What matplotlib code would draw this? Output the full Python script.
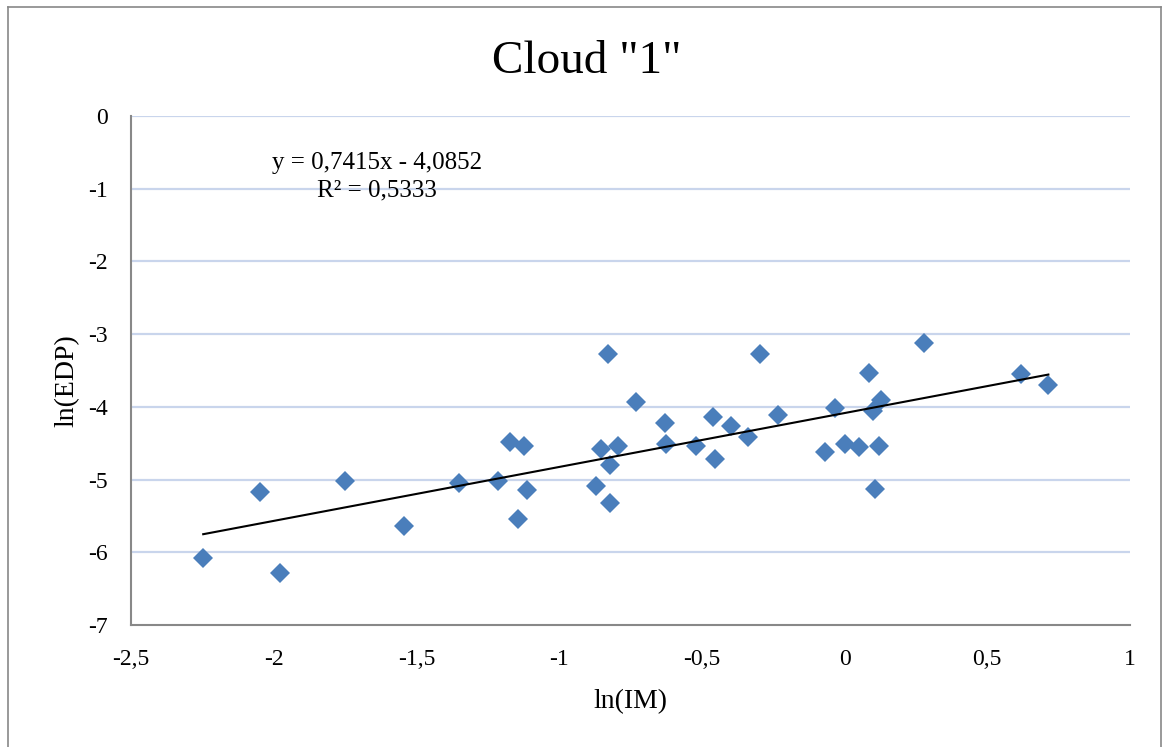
import numpy as np
import matplotlib
matplotlib.use("Agg")
import matplotlib.pyplot as plt
from matplotlib.lines import Line2D

# Data
ln_im = [-2.247, -2.047, -1.977, -1.752, -1.544, -1.352, -1.214, -1.172, -1.123, -1.114,
         -1.144, -0.828, -0.854, -0.793, -0.822, -0.871, -0.822, -0.732, -0.630, -0.626,
         -0.521, -0.460, -0.453, -0.399, -0.337, -0.295, -0.233, -0.070, -0.035, 0.001,
         0.049, 0.087, 0.128, 0.101, 0.121, 0.107, 0.279, 0.617, 0.714]
ln_edp = [-6.077, -5.173, -6.278, -5.013, -5.637, -5.054, -5.013, -4.490, -4.540, -5.146,
          -5.540, -3.271, -4.586, -4.541, -4.793, -5.087, -5.316, -3.940, -4.224, -4.504,
          -4.541, -4.146, -4.715, -4.261, -4.413, -3.271, -4.118, -4.614, -4.014, -4.504,
          -4.550, -3.541, -3.899, -4.055, -4.541, -5.128, -3.124, -3.555, -3.706]
slope, intercept = 0.7415, -4.0852
r2 = 0.5333
x_ticks = [-2.5, -2, -1.5, -1, -0.5, 0, 0.5, 1]
x_tick_labels = ["-2,5", "-2", "-1,5", "-1", "-0,5", "0", "0,5", "1"]
y_ticks = [0, -1, -2, -3, -4, -5, -6, -7]

plt.rcParams['font.family'] = ['Liberation Serif', 'DejaVu Serif']

W, H = 1164, 747
fig = plt.figure(figsize=(W / 100, H / 100), dpi=100)
ax = fig.add_axes([131 / W, 1 - 625 / H, (1130 - 131) / W, (625 - 116) / H])

ax.set_xlim(-2.5, 1)
ax.set_ylim(-7, 0)
ax.set_xticks(x_ticks)
ax.set_xticklabels(x_tick_labels)
ax.set_yticks(y_ticks)
ax.set_yticklabels([str(t) for t in y_ticks])
ax.tick_params(length=0, labelsize=17)
ax.tick_params(axis='x', pad=17)
ax.tick_params(axis='y', pad=16.5)

for t in y_ticks[:-1]:
    ax.axhline(t, color='#C9D5EC', lw=1.6, zorder=0)

for s in ['top', 'right']:
    ax.spines[s].set_visible(False)
for s in ['left', 'bottom']:
    ax.spines[s].set_color('#888888')
    ax.spines[s].set_linewidth(1.5)

ax.plot(ln_im, ln_edp, linestyle='none', marker='D', markersize=10,
        color='#4A7EBB', markeredgewidth=0, zorder=3)

xs = np.array([min(ln_im), max(ln_im)])
ax.plot(xs, slope * xs + intercept, color='black', lw=1.5, zorder=4)

ax.text((377 - 131) / (1130 - 131), 1 - (163 - 116) / (625 - 116),
        "y = 0,7415x - 4,0852", transform=ax.transAxes, ha='center', va='center', fontsize=18)
ax.text((377 - 131) / (1130 - 131), 1 - (190 - 116) / (625 - 116),
        "R² = 0,5333", transform=ax.transAxes, ha='center', va='center', fontsize=18)

fig.text(587 / W, 1 - 62 / H, 'Cloud "1"', ha='center', va='center', fontsize=34)
fig.text(630 / W, 1 - 702 / H, 'ln(IM)', ha='center', va='center', fontsize=20)
fig.text(67 / W, 1 - 381 / H, 'ln(EDP)', ha='center', va='center', fontsize=20, rotation=90)

# outer chart border
fig.add_artist(Line2D([8 / W, 8 / W], [0, 1 - 7 / H], transform=fig.transFigure, color='#888888', lw=1.2))
fig.add_artist(Line2D([8 / W, 1161 / W], [1 - 7 / H, 1 - 7 / H], transform=fig.transFigure, color='#888888', lw=1.2))
fig.add_artist(Line2D([1161 / W, 1161 / W], [0, 1 - 7 / H], transform=fig.transFigure, color='#888888', lw=1.2))

fig.savefig('out.png', dpi=100)
